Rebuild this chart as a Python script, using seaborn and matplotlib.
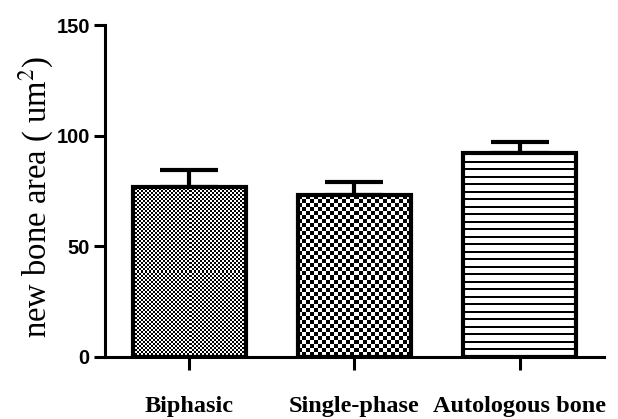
import numpy as np
import matplotlib
matplotlib.use('Agg')
import matplotlib.pyplot as plt
import seaborn as sns

# ---------------- data ----------------
groups = ['Biphasic', 'Single-phase', 'Autologous bone']
means = [77, 73, 92]
sems = [7.5, 6, 5]

# ---------------- style ----------------
sns.set_style('ticks')
plt.rcParams['font.family'] = ['Liberation Serif', 'DejaVu Serif']
plt.rcParams['mathtext.fontset'] = 'stix'
for key in ['text.color', 'axes.labelcolor', 'xtick.color', 'ytick.color', 'axes.edgecolor']:
    plt.rcParams[key] = 'black'

fig = plt.figure(figsize=(6.18, 4.19), dpi=100)
ax = fig.add_axes([0.170, 0.148, 0.807, 0.792])

sns.barplot(x=groups, y=means, color='white', edgecolor='black',
            linewidth=3, width=0.685, errorbar=None, ax=ax)

ax.set_ylim(0, 150)
ax.set_xlim(-0.51, 2.51)
ax.set_yticks([0, 50, 100, 150])

# fill patterns: (kind, pixel size)
patterns = [('check', 2), ('check', 4), ('hlines', 7.5)]

fig.canvas.draw()
for patch, (kind, size) in zip(ax.patches, patterns):
    patch.set_facecolor('none')
    patch.set_zorder(3)
    x0, y0 = patch.get_x(), patch.get_y()
    x1, y1 = x0 + patch.get_width(), y0 + patch.get_height()
    p0 = ax.transData.transform((x0, y0))
    p1 = ax.transData.transform((x1, y1))
    w_px = int(round(abs(p1[0] - p0[0])))
    h_px = int(round(abs(p1[1] - p0[1])))
    jj, ii = np.meshgrid(np.arange(w_px), np.arange(h_px))
    if kind == 'check':
        arr = ((ii // size + jj // size) % 2).astype(float)
    else:
        arr = 1 - ((ii % size) < 2).astype(float)
    im = ax.imshow(arr, cmap='gray', vmin=0, vmax=1, extent=(x0, x1, y0, y1),
                   origin='upper', interpolation='nearest', aspect='auto', zorder=2)
    im.set_clip_path(patch)

# only the upper half of each error bar is visible
centers = [p.get_x() + p.get_width() / 2 for p in ax.patches]
ax.errorbar(centers, means, yerr=[np.zeros(len(sems)), sems], fmt='none',
            ecolor='black', elinewidth=3, capsize=21, capthick=3, zorder=1)

ax.set_xlim(-0.51, 2.51)
ax.set_ylim(0, 150)

sns.despine(ax=ax)
for side in ['left', 'bottom']:
    ax.spines[side].set_linewidth(2.2)
    ax.spines[side].set_color('black')

ax.tick_params(axis='y', length=8, width=2.2, pad=3, colors='black')
ax.tick_params(axis='x', length=9, width=2.2, pad=19, colors='black')
for lab in ax.get_yticklabels():
    lab.set_family(['Liberation Sans', 'DejaVu Sans'])
    lab.set_fontweight('bold')
    lab.set_fontsize(14.5)
for lab in ax.get_xticklabels():
    lab.set_fontsize(17.5)
    lab.set_fontweight('bold')

ax.set_ylabel('new bone area ( um$^2$)', fontsize=23.5, labelpad=0, color='black')
ax.yaxis.label.set_y(0.482)
ax.set_xlabel('')

fig.savefig('out.png', dpi=100)
